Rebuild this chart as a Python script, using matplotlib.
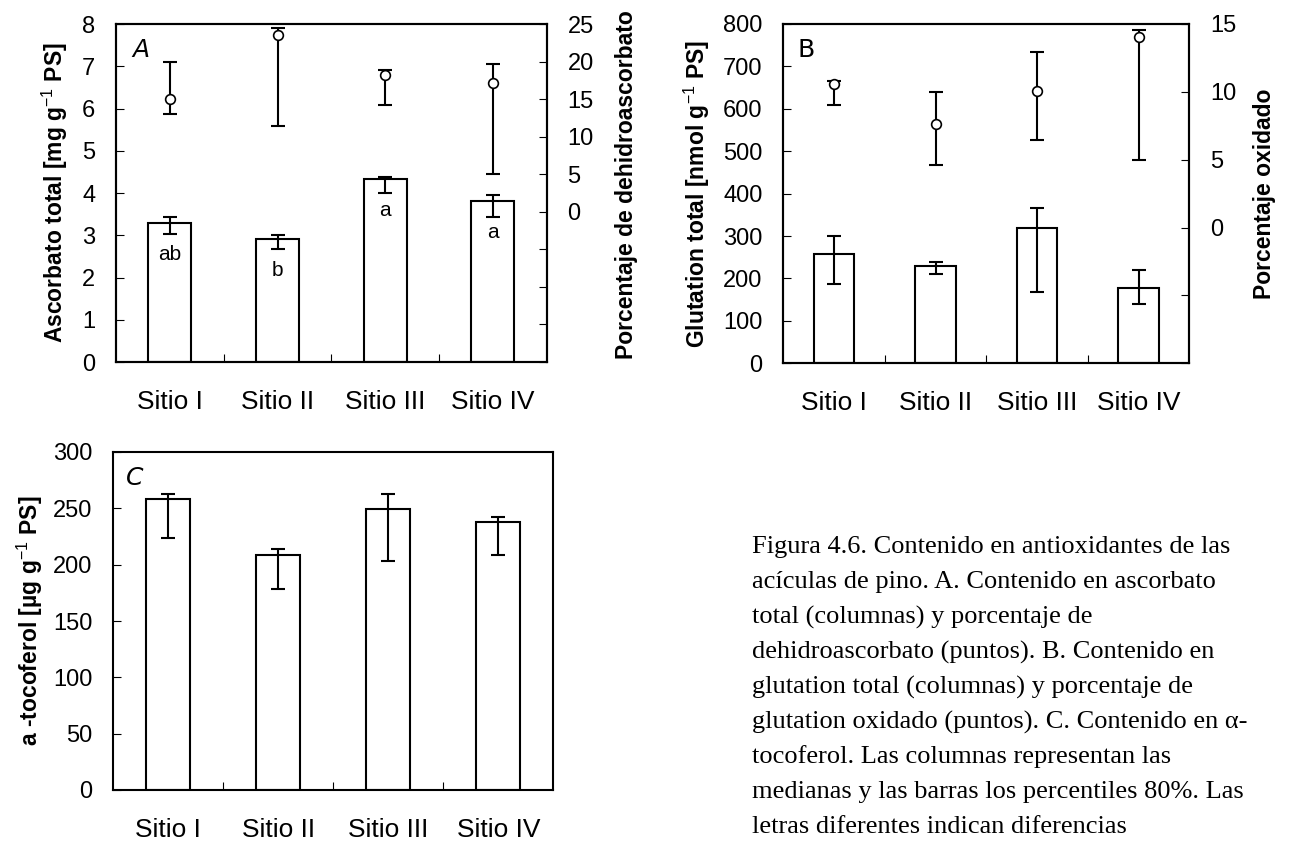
import numpy as np
import matplotlib
matplotlib.use("Agg")
import matplotlib.pyplot as plt
from matplotlib.ticker import FixedLocator

plt.rcParams['font.family'] = ['Liberation Sans', 'DejaVu Sans']
plt.rcParams['mathtext.fontset'] = 'custom'
plt.rcParams['mathtext.rm'] = 'Liberation Sans'
plt.rcParams['mathtext.bf'] = 'Liberation Sans:bold'

# ---------------- data ----------------
sites = ["Sitio I", "Sitio II", "Sitio III", "Sitio IV"]

# Panel A: total ascorbate (bars) and % dehydroascorbate (points)
asc_med = [3.29, 2.91, 4.34, 3.81]
asc_lo = [3.04, 2.67, 4.00, 3.43]
asc_hi = [3.43, 3.00, 4.38, 3.96]
asc_letters = ["ab", "b", "a", "a"]
dha_med = [15.05, 23.6, 18.25, 17.2]
dha_lo = [13.05, 11.45, 14.2, 5.06]
dha_hi = [20.0, 24.5, 18.9, 19.7]

# Panel B: total glutathione (bars) and % oxidised (points)
glu_med = [258, 230, 320, 178]
glu_lo = [186, 211, 168, 140]
glu_hi = [300, 240, 366, 221]
gox_med = [10.57, 7.62, 10.1, 14.07]
gox_lo = [9.0, 4.58, 6.47, 5.0]
gox_hi = [10.8, 10.0, 12.94, 14.56]

# Panel C: alpha-tocopherol
toc_med = [258.3, 208.5, 249.2, 238.3]
toc_lo = [223.8, 178.2, 203.2, 208.3]
toc_hi = [263.0, 213.8, 263.0, 242.1]

caption_lines = [
    "Figura 4.6. Contenido en antioxidantes de las",
    "acículas de pino. A. Contenido en ascorbato",
    "total (columnas) y porcentaje de",
    "dehidroascorbato (puntos). B. Contenido en",
    "glutation total (columnas) y porcentaje de",
    "glutation oxidado (puntos). C. Contenido en α-",
    "tocoferol. Las columnas representan las",
    "medianas y las barras los percentiles 80%. Las",
    "letras diferentes indican diferencias",
]

# ---------------- figure ----------------
W, H = 1294, 844
fig = plt.figure(figsize=(W / 100, H / 100), dpi=100)

def px_axes(l, t, r, b):
    return fig.add_axes([l / W, 1 - b / H, (r - l) / W, (b - t) / H])

LW = 1.5
TICK_FS = 17
CAT_FS = 19
LAB_FS = 16.5
x = np.arange(1, len(sites) + 1)


def style_main(ax, ylim, yticks):
    ax.set_xlim(0.5, 4.5)
    ax.set_ylim(*ylim)
    ax.set_yticks(yticks)
    for s in ax.spines.values():
        s.set_linewidth(LW)
    ax.set_xticks(x)
    ax.set_xticklabels(sites, fontsize=CAT_FS)
    ax.xaxis.set_minor_locator(FixedLocator([1.5, 2.5, 3.5]))
    ax.tick_params(axis='x', which='major', length=0, pad=20)
    ax.tick_params(axis='x', which='minor', direction='in', length=6, width=0.8)
    ax.tick_params(axis='y', direction='in', length=6, width=0.8, pad=15,
                   labelsize=TICK_FS)


def bars(ax, med, lo, hi):
    med = np.asarray(med); lo = np.asarray(lo); hi = np.asarray(hi)
    ax.bar(x, med, width=0.4, facecolor='white', edgecolor='black',
           linewidth=LW, zorder=2)
    ax.errorbar(x, med, yerr=[med - lo, hi - med], fmt='none', ecolor='black',
                elinewidth=LW, capsize=4.8, capthick=LW, zorder=3)


def points(ax, med, lo, hi):
    med = np.asarray(med); lo = np.asarray(lo); hi = np.asarray(hi)
    ax.errorbar(x, med, yerr=[med - lo, hi - med], fmt='none', ecolor='black',
                elinewidth=LW, capsize=5.2, capthick=LW, zorder=3)
    ax.plot(x, med, 'o', ms=7, mfc='white', mec='black', mew=1.2, zorder=4)


def right_axis(ax, ylim, labeled_from):
    ax2 = ax.twinx()
    ax2.set_ylim(*ylim)
    ticks = np.arange(ylim[0], ylim[1] + 0.1, 5)
    ax2.set_yticks(ticks)
    ax2.set_yticklabels([f"{int(t)}" if t >= labeled_from else "" for t in ticks])
    ax2.tick_params(axis='y', direction='in', length=6, width=0.8, pad=15,
                    labelsize=TICK_FS)
    for s in ax2.spines.values():
        s.set_linewidth(LW)
    return ax2


def place_ylabel(ax, text, xc, yc=0.5):
    lab = ax.set_ylabel(text, fontsize=LAB_FS, fontweight='bold')
    lab.set_rotation(90)
    lab.set_va('center')
    lab.set_ha('center')
    lab.set_rotation_mode('anchor')
    ax.yaxis.set_label_coords(xc, yc)


# ---- Panel A ----
axA = px_axes(116, 24, 546.7, 362)
bars(axA, asc_med, asc_lo, asc_hi)
style_main(axA, (0, 8), np.arange(0, 9, 1))
for xi, v, t in zip(x, asc_med, asc_letters):
    axA.annotate(t, (xi, v), xytext=(0, -23), textcoords='offset points',
                 ha='center', va='center', fontsize=15, zorder=5)
axA.text(0.058, 0.923, "A", transform=axA.transAxes, fontsize=18,
         fontstyle='italic', family='DejaVu Sans', ha='center', va='center')
place_ylabel(axA, r"Ascorbato total [mg g$^{-1}$ PS]", -0.142, 0.5)
axA2 = right_axis(axA, (-20, 25), 0)
points(axA2, dha_med, dha_lo, dha_hi)
place_ylabel(axA2, "Porcentaje de dehidroascorbato", 1.186, 0.524)

# ---- Panel B ----
axB = px_axes(783.3, 24, 1189.3, 363.3)
bars(axB, glu_med, glu_lo, glu_hi)
style_main(axB, (0, 800), np.arange(0, 801, 100))
axB.text(0.057, 0.923, "B", transform=axB.transAxes, fontsize=18,
         family='DejaVu Sans', ha='center', va='center')
place_ylabel(axB, r"Glutation total [nmol g$^{-1}$ PS]", -0.2126, 0.5)
axB2 = right_axis(axB, (-10, 15), 0)
points(axB2, gox_med, gox_lo, gox_hi)
place_ylabel(axB2, "Porcentaje oxidado", 1.185, 0.5)

# ---- Panel C ----
axC = px_axes(113.3, 452, 553.3, 790)
bars(axC, toc_med, toc_lo, toc_hi)
style_main(axC, (0, 300), np.arange(0, 301, 50))
axC.text(0.048, 0.923, "C", transform=axC.transAxes, fontsize=18,
         family='DejaVu Sans', fontstyle='italic', ha='center', va='center')
place_ylabel(axC, r"a -tocoferol [µg g$^{-1}$ PS]", -0.19, 0.5)

# ---- Caption ----
for k, line in enumerate(caption_lines):
    fig.text(752 / W, 1 - (547 + 35.0 * k) / H, line, family='Liberation Serif',
             fontsize=19, ha='left', va='center')

fig.savefig("out.png", dpi=100)
